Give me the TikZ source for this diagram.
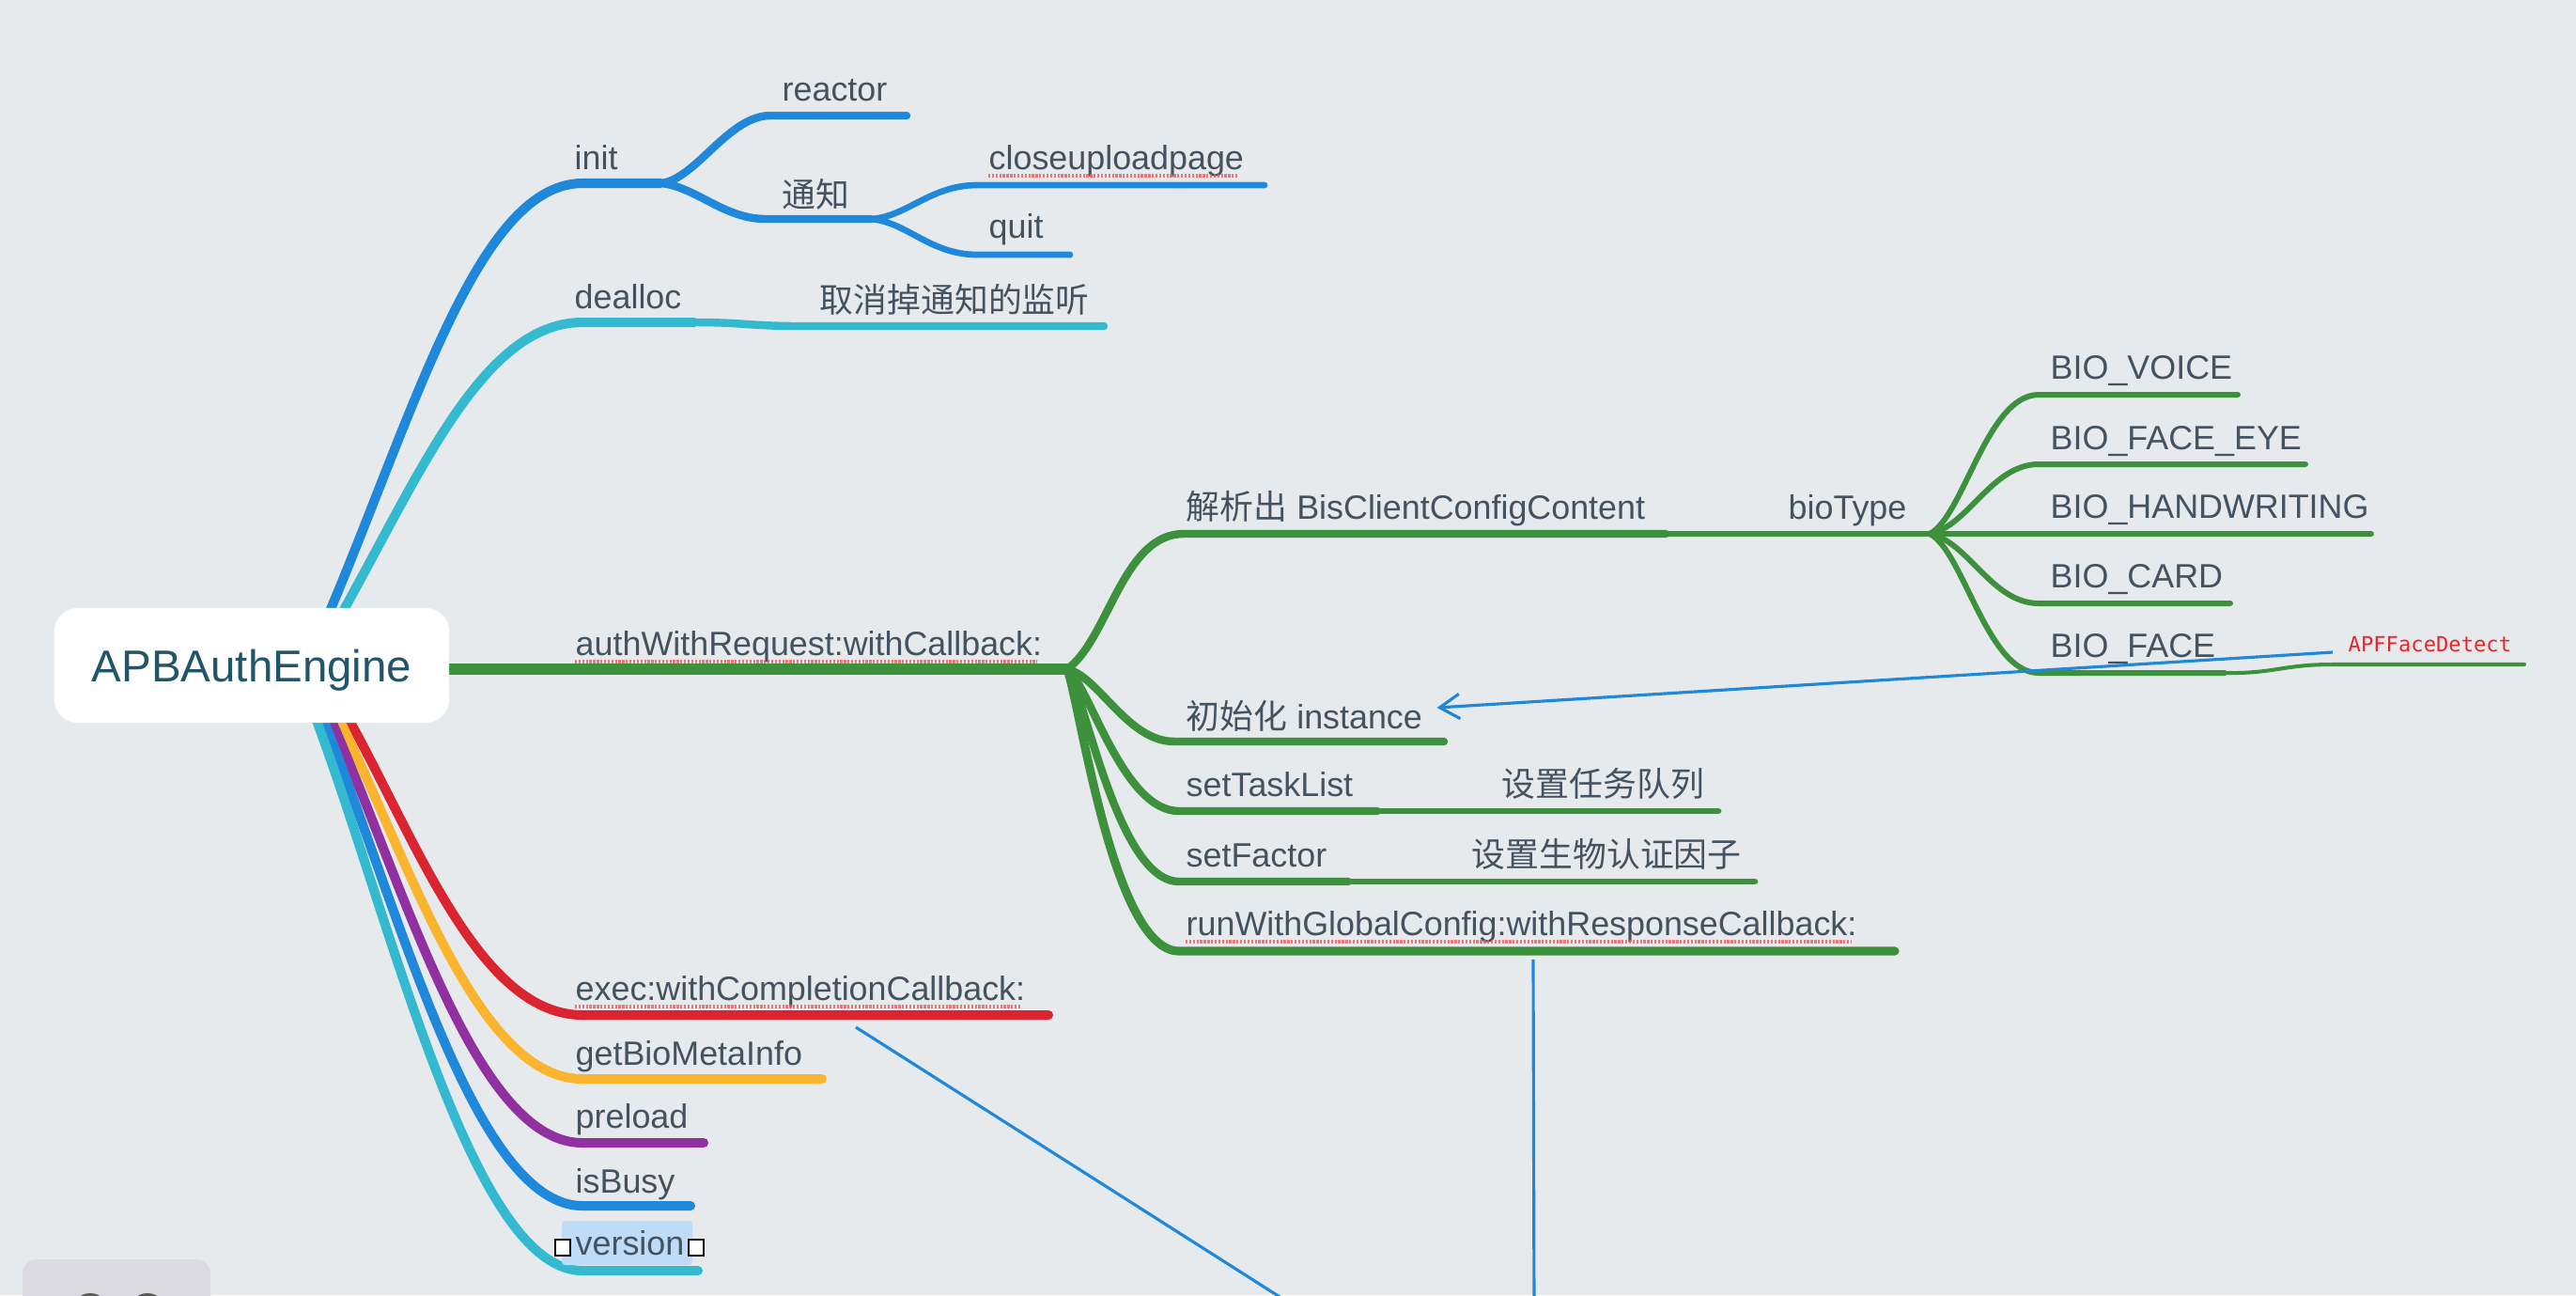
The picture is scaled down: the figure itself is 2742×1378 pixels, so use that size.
\documentclass[tikz,border=0pt]{standalone}
\usepackage{fontspec}
\setmainfont{Liberation Sans}
\newfontfamily\cjk{Noto Sans CJK SC}
\newfontfamily\codefont{DejaVu Sans Mono}
\usetikzlibrary{arrows.meta,calc}
\definecolor{bgc}{HTML}{E6EAED}
\definecolor{txt}{HTML}{44535F}
\definecolor{roottxt}{HTML}{22546A}
\definecolor{gbranch}{HTML}{3D913D}
\definecolor{bbranch}{HTML}{1F88DB}
\definecolor{cbranch}{HTML}{33B9D0}
\definecolor{rbranch}{HTML}{DA2430}
\definecolor{ybranch}{HTML}{FBB42E}
\definecolor{pbranch}{HTML}{9130A0}
\definecolor{spell}{HTML}{F05A5A}
\definecolor{apfred}{HTML}{E8262A}
\definecolor{selbox}{HTML}{BEDCF8}
\definecolor{dock}{HTML}{DCDBE2}
\begin{document}
\begin{tikzpicture}[x=0.01cm,y=-0.01cm,
  lbl/.style={anchor=base west,inner sep=0pt,text=txt,font=\fontsize{10.2}{12}\selectfont},
  lv1/.style={line cap=round,line width=2.85pt},
  lv2/.style={line cap=round,line width=2.4pt},
  lv3/.style={line cap=round,line width=1.9pt},
  biol/.style={line cap=round,line width=1.7pt,gbranch},
  lv4/.style={line cap=round,line width=1.15pt},
  link/.style={bbranch,line width=0.9pt},
  squiggle/.style={spell,opacity=0.8,line width=1.4pt,dash pattern=on 0.65pt off 0.45pt},
  rootbox/.style={fill=white,rounded corners=7pt,minimum width=4.2cm,minimum height=1.22cm,
    inner sep=0pt,text=roottxt,font=\fontsize{13.5}{16}\selectfont,text depth=0pt},
]
\clip (0,0) rectangle (2742,1378);
\fill[bgc] (0,0) rectangle (2742,1378);

% junction points of the map
\coordinate (jinit) at (703,195);
\coordinate (jnotify) at (927,233);
\coordinate (jdealloc) at (739,343);
\coordinate (jauth) at (1136,712);
\coordinate (jparse) at (1773,568);
\coordinate (jbio) at (2054,568);
\coordinate (jtask) at (1466,863);
\coordinate (jfactor) at (1435,938);
\coordinate (jface) at (2368,716);

% ---------- upper branches ----------
\draw[lv1,bbranch] (325,710) .. controls (430,480) and (500,195) .. (620,195) -- (jinit);
\draw[lv2,bbranch] (jinit) .. controls (740,192) and (775,123) .. (820,123) -- (965,123);
\draw[lv2,bbranch] (jinit) .. controls (740,198) and (770,233) .. (815,233) -- (jnotify);
\draw[lv3,bbranch] (jnotify) .. controls (965,231) and (990,197) .. (1040,197) -- (1346,197);
\draw[lv3,bbranch] (jnotify) .. controls (965,236) and (990,271) .. (1040,271) -- (1139,271);

\draw[lv1,cbranch] (330,710) .. controls (430,550) and (500,343) .. (620,343) -- (jdealloc);
\draw[lv2,cbranch] (jdealloc) .. controls (790,343) and (800,347) .. (850,347) -- (1175,347);

% ---------- authWithRequest ----------
\draw[gbranch,line cap=round,line width=3.2pt] (420,712) -- (jauth);
\draw[lv2,gbranch] (jauth) .. controls (1180,680) and (1195,568) .. (1260,568) -- (jparse);
\draw[lv3,gbranch] (jparse) -- (jbio);
\draw[biol] (jbio) .. controls (2090,550) and (2115,420) .. (2170,420) -- (2382,420);
\draw[biol] (jbio) .. controls (2095,560) and (2120,494) .. (2170,494) -- (2454,494);
\draw[biol] (jbio) -- (2524,568);
\draw[biol] (jbio) .. controls (2095,576) and (2120,642) .. (2170,642) -- (2374,642);
\draw[biol] (jbio) .. controls (2090,586) and (2115,716) .. (2170,716) -- (jface);
\draw[lv4,gbranch] (jface) .. controls (2420,717) and (2430,707) .. (2483,707) -- (2687,707);

\draw[lv2,gbranch] (jauth) .. controls (1170,720) and (1200,789) .. (1250,789) -- (1537,789);
\draw[lv2,gbranch] (jauth) .. controls (1160,730) and (1195,863) .. (1255,863) -- (jtask);
\draw[lv3,gbranch] (jtask) -- (1829,863);
\draw[lv2,gbranch] (jauth) .. controls (1155,740) and (1190,938) .. (1255,938) -- (jfactor);
\draw[lv3,gbranch] (jfactor) -- (1868,938);
\draw[gbranch,line cap=round,line width=2.6pt] (jauth) .. controls (1150,750) and (1185,1012) .. (1255,1012) -- (2017,1012);

% ---------- lower branches ----------
\draw[lv1,rbranch] (330,700) .. controls (420,820) and (490,1080) .. (620,1080) -- (1116,1080);
\draw[lv1,ybranch] (325,700) .. controls (415,840) and (490,1148) .. (620,1148) -- (875,1148);
\draw[lv1,pbranch] (320,700) .. controls (410,860) and (490,1216) .. (620,1216) -- (749,1216);
\draw[lv1,bbranch] (315,700) .. controls (405,880) and (490,1283) .. (620,1283) -- (735,1283);
\draw[lv1,cbranch] (310,700) .. controls (400,900) and (490,1352) .. (620,1352) -- (743,1352);

% ---------- root ----------
\node[rootbox] (root) at (268,708) {APBAuthEngine};

% ---------- labels ----------
\node[lbl] (init) at (611,180) {init};
\node[lbl] (reactor) at (832,107) {reactor};
\node[lbl] (notify) at (832,220) {\cjk 通知};
\node[lbl] (cup) at (1052,180) {closeuploadpage};
\node[lbl] (quit) at (1052,253) {quit};
\node[lbl] (dealloc) at (611,328) {dealloc};
\node[lbl] (unobs) at (872,332) {\cjk 取消掉通知的监听};

\node[lbl] (auth) at (612,697) {authWithRequest:withCallback:};
\node[lbl] (parse) at (1262,552) {{\cjk 解析出} BisClientConfigContent};
\node[lbl] (biotype) at (1903,552) {bioType};
\node[lbl] (voice) at (2182,403) {BIO\_VOICE};
\node[lbl] (faceeye) at (2182,478) {BIO\_FACE\_EYE};
\node[lbl] (hand) at (2182,551) {BIO\_HANDWRITING};
\node[lbl] (card) at (2182,625) {BIO\_CARD};
\node[lbl] (face) at (2182,699) {BIO\_FACE};
\node[anchor=base west,inner sep=0pt,text=apfred,font=\codefont\fontsize{6.3}{7}\selectfont] (apf) at (2499,693) {APFFaceDetect};
\node[lbl] (inst) at (1262,775) {{\cjk 初始化} instance};
\node[lbl] (task) at (1262,847) {setTaskList};
\node[lbl] (taskzh) at (1598,847) {\cjk 设置任务队列};
\node[lbl] (factor) at (1262,922) {setFactor};
\node[lbl] (factorzh) at (1566,922) {\cjk 设置生物认证因子};
\node[lbl] (run) at (1262,995) {runWithGlobalConfig:withResponseCallback:};

\node[lbl] (exec) at (612,1064) {exec:withCompletionCallback:};
\node[lbl] (meta) at (612,1133) {getBioMetaInfo};
\node[lbl] (preload) at (612,1200) {preload};
\node[lbl] (busy) at (612,1269) {isBusy};
\fill[selbox,rounded corners=1pt] (598,1299) rectangle (737,1346);
\node[lbl] (version) at (612,1335) {version};
\draw[black,fill=white,line width=0.6pt] (591,1319) rectangle (607,1336);
\draw[black,fill=white,line width=0.6pt] (733,1319) rectangle (749,1336);

% spell-check underlines
\foreach \n in {cup,auth,run,exec}
  \draw[squiggle] ($(\n.base west)+(0,7)$) -- ($(\n.base east)+(-6,7)$);

% ---------- relation lines ----------
\coordinate (apftail) at ($(apf.base west)+(-16,1)$);
\coordinate (insthead) at ($(inst.base east)+(15,-22)$);
\draw[link,-{Straight Barb[length=6pt,width=7.5pt]}] (apftail) -- (insthead);
\coordinate (execfoot) at (911,1093);
\draw[link] (execfoot) -- (1400,1404);
\coordinate (runfoot) at (1632,1021);
\draw[link] (runfoot) -- (1633,1400);

% ---------- corner panel ----------
\fill[dock,rounded corners=4.3pt] (24,1340) rectangle (224,1420);
\fill[black!65] (96,1396) circle (20);
\fill[black!65] (157,1396) circle (20);
\end{tikzpicture}
\end{document}
